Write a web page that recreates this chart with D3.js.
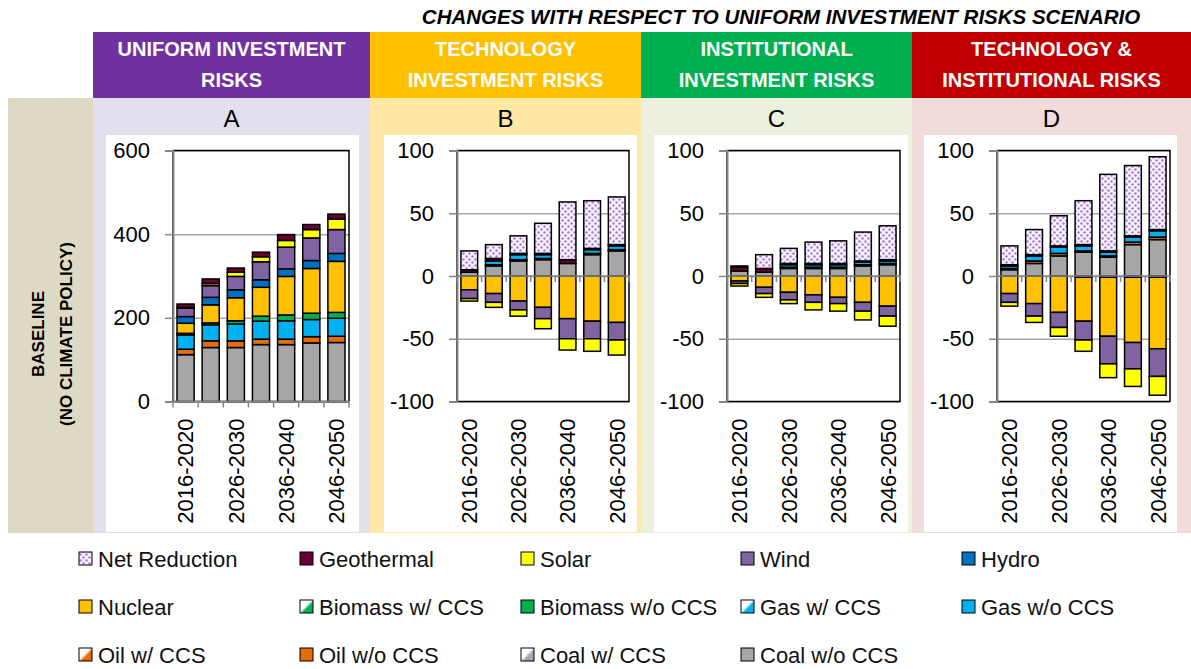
<!DOCTYPE html>
<html>
<head>
<meta charset="utf-8">
<script src="https://cdn.jsdelivr.net/npm/d3@7"></script>
<style>
  body { margin: 0; background: #fff; }
  svg { display: block; }
  text { font-family: "Liberation Sans", Arial, sans-serif; }
</style>
</head>
<body>
<div id="chart"></div>
<script>
// ---- data ----
const periods = ["2016-2020", "2021-2025", "2026-2030", "2031-2035", "2036-2040", "2041-2045", "2046-2050"];
const periodLabels = ["2016-2020", "2026-2030", "2036-2040", "2046-2050"];

// stacking order, bottom to top
const techs = ["Coal w/o CCS", "Coal w/ CCS", "Oil w/o CCS", "Oil w/ CCS", "Gas w/o CCS", "Gas w/ CCS",
    "Biomass w/o CCS", "Biomass w/ CCS", "Nuclear", "Hydro", "Wind", "Solar", "Geothermal", "Net Reduction"];
const techColors = ["#a6a6a6", "#a6a6a6", "#e46c0a", "#e46c0a", "#00b0f0", "#00b0f0",
    "#00b050", "#00b050", "#ffc000", "#0070c0", "#8064a2", "#ffff00", "#660033", "#9966cc"];

// one row per period, columns in the order of `techs`
const panelA = [
    [112, 0, 13, 0, 34, 0, 4, 0, 24, 16, 20, 2, 8, 0],
    [129, 0, 16, 0, 38, 0, 5, 0, 43, 18, 28, 5, 11, 0],
    [129, 0, 16, 0, 40, 0, 8, 0, 55, 19, 32, 10, 10, 0],
    [136, 0, 13, 0, 43, 0, 12, 0, 69, 18, 43, 12, 11, 0],
    [136, 0, 13, 0, 44, 0, 14, 0, 92, 18, 52, 16, 14, 0],
    [140, 0, 15, 0, 41, 0, 15, 0, 107, 19, 54, 20, 12, 0],
    [141, 0, 15, 0, 43, 0, 14, 0, 122, 19, 57, 25, 12, 0]
];
const panelB = [
    [3, 0, 0, 0, 0, 0, 0, 0, -11, 0, -7, -2, 2, 15],
    [8, 0, 1, 0, 3, 0, 0, 0, -14, 0, -7, -4, 2, 11],
    [12, 0, 1, 0, 4, 0, 0, 0, -20, 0, -7, -5, 1, 14],
    [13, 0, 1, 0, 3, 0, 0, 0, -25, 0, -9, -8, 1, 24],
    [10, 0, 0, 0, 0, 0, 0, 0, -34, 0, -16, -9, 3, 46],
    [17, 0, 1, 0, 3, 0, 0, 0, -36, 0, -14, -10, 1, 38],
    [20, 0, 1, 0, 3, 0, 0, 0, -37, 0, -14, -12, 1, 38]
];
const panelC = [
    [4, 0, 0, 0, 0, 0, 0, 0, -4, 0, -2, -2, 3, 1],
    [3, 0, 0, 0, 0, 0, 0, 0, -9, 0, -5, -3, 3, 11],
    [6, 0, 1, 0, 2, 0, 0, 0, -13, 0, -6, -3, 1, 12],
    [6, 0, 1, 0, 2, 0, 0, 0, -15, 0, -6, -6, 1, 17],
    [6, 0, 1, 0, 2, 0, 0, 0, -17, 0, -5, -6, 1, 18],
    [8, 0, 1, 0, 2, 0, 0, 0, -21, 0, -7, -7, 1, 23],
    [9, 0, 1, 0, 2, 0, 0, 0, -24, 0, -8, -8, 1, 27]
];
const panelD = [
    [5, 0, 1, 0, 2, 0, 0, 0, -14, 0, -7, -3, 1, 15],
    [10, 0, 2, 0, 4, 0, 0, 0, -22, 0, -10, -5, 1, 20],
    [16, 0, 2, 0, 5, 0, 0, 0, -29, 0, -12, -7, 1, 24],
    [19, 0, 1, 0, 4, 0, -1, 0, -35, 0, -15, -9, 1, 35],
    [15, 0, 1, 0, 3, 0, -1, 0, -47, 0, -22, -11, 1, 61],
    [25, 0, 2, 0, 4, 0, -1, 0, -52, 0, -21, -14, 1, 56],
    [29, 0, 2, 0, 5, 0, -1, 0, -57, 0, -22, -15, 1, 58]
];

const yTicksLevel = [0, 200, 400, 600];
const yTicksChange = [-100, -50, 0, 50, 100];

const headerTitle = "CHANGES WITH RESPECT TO UNIFORM INVESTMENT RISKS SCENARIO";

// ---- layout ----
const panels = [
    {letter: "A", rows: panelA, head: ["UNIFORM INVESTMENT", "RISKS"], headColor: "#7030a0", bg: "#e4dfec",
        x0: 93, x1: 370, white: [106, 359], plot: [173, 349], domain: [0, 600], ticks: yTicksLevel},
    {letter: "B", rows: panelB, head: ["TECHNOLOGY", "INVESTMENT RISKS"], headColor: "#ffc000", bg: "#ffe8a3",
        x0: 370, x1: 641, white: [384, 637], plot: [457, 629], domain: [-100, 100], ticks: yTicksChange},
    {letter: "C", rows: panelC, head: ["INSTITUTIONAL", "INVESTMENT RISKS"], headColor: "#00b050", bg: "#ebf1de",
        x0: 641, x1: 912, white: [654, 908], plot: [727, 900], domain: [-100, 100], ticks: yTicksChange},
    {letter: "D", rows: panelD, head: ["TECHNOLOGY &", "INSTITUTIONAL RISKS"], headColor: "#c00000", bg: "#f2dcdb",
        x0: 912, x1: 1191, white: [924, 1177], plot: [997, 1170], domain: [-100, 100], ticks: yTicksChange}
];

const plotTop = 150.5, plotBottom = 401.5;

const svg = d3.select("#chart").append("svg")
    .attr("width", 1191)
    .attr("height", 669);

// fills: dotted pattern for net reduction, half white gradients for CCS types
const defs = svg.append("defs");
const dots = defs.append("pattern")
    .attr("id", "dots")
    .attr("patternUnits", "userSpaceOnUse")
    .attr("width", 6).attr("height", 6);
dots.append("rect").attr("width", 6).attr("height", 6).attr("fill", "#f6f1fb");
dots.append("circle").attr("cx", 1.5).attr("cy", 1.5).attr("r", 1.2).attr("fill", "#a47bd6");
dots.append("circle").attr("cx", 4.5).attr("cy", 4.5).attr("r", 1.2).attr("fill", "#a47bd6");

techs.forEach((t, i) => {
    if (!t.includes("w/ CCS")) return;
    const grad = defs.append("linearGradient")
        .attr("id", "grad" + i)
        .attr("x1", 0).attr("y1", 0).attr("x2", 1).attr("y2", 1);
    grad.append("stop").attr("offset", "0%").attr("stop-color", "#fff");
    grad.append("stop").attr("offset", "45%").attr("stop-color", "#fff");
    grad.append("stop").attr("offset", "60%").attr("stop-color", techColors[i]);
    grad.append("stop").attr("offset", "100%").attr("stop-color", techColors[i]);
});

function fillFor(name) {
    const i = techs.indexOf(name);
    if (name === "Net Reduction") return "url(#dots)";
    if (name.includes("w/ CCS")) return "url(#grad" + i + ")";
    return techColors[i];
}

// ---- backgrounds & headings ----
svg.append("text")
    .attr("x", 781).attr("y", 24)
    .attr("text-anchor", "middle")
    .style("font-size", "20.5px").style("font-weight", "bold").style("font-style", "italic")
    .text(headerTitle);

svg.append("rect")
    .attr("x", 8).attr("y", 98).attr("width", 85).attr("height", 435)
    .attr("fill", "#ddd9c4");

const sideLabel = svg.append("text")
    .attr("transform", "translate(52,334) rotate(-90)")
    .attr("text-anchor", "middle")
    .style("font-size", "17px").style("font-weight", "bold");
sideLabel.append("tspan").attr("x", 0).attr("dy", "-0.45em").text("BASELINE");
sideLabel.append("tspan").attr("x", 0).attr("dy", "1.65em").text("(NO CLIMATE POLICY)");

panels.forEach(p => {
    const cx = (p.x0 + p.x1) / 2;

    svg.append("rect")
        .attr("x", p.x0).attr("y", 32).attr("width", p.x1 - p.x0).attr("height", 66)
        .attr("fill", p.headColor);
    p.head.forEach((line, k) => {
        svg.append("text")
            .attr("x", cx).attr("y", 56 + k * 31)
            .attr("text-anchor", "middle")
            .attr("fill", "#fff")
            .style("font-size", "20px").style("font-weight", "bold")
            .text(line);
    });

    svg.append("rect")
        .attr("x", p.x0).attr("y", 98).attr("width", p.x1 - p.x0).attr("height", 435)
        .attr("fill", p.bg);
    svg.append("rect")
        .attr("x", p.white[0]).attr("y", 135).attr("width", p.white[1] - p.white[0]).attr("height", 397)
        .attr("fill", "#fff");

    svg.append("text")
        .attr("x", cx).attr("y", 127)
        .attr("text-anchor", "middle")
        .style("font-size", "24px")
        .text(p.letter);

    drawPanel(p);
});

function drawPanel(p) {
    const x = d3.scaleBand()
        .domain(periods)
        .range(p.plot)
        .paddingInner(0.32)
        .paddingOuter(0.16);

    const y = d3.scaleLinear()
        .domain(p.domain)
        .range([plotBottom, plotTop]);

    const g = svg.append("g");

    // gridlines
    g.append("g")
        .attr("transform", `translate(${p.plot[0]},0)`)
        .call(d3.axisLeft(y).tickValues(p.ticks).tickSize(-(p.plot[1] - p.plot[0])).tickFormat(""))
        .call(a => a.select(".domain").remove())
        .selectAll("line")
        .attr("stroke", "#a6a6a6")
        .attr("stroke-width", 1.5);

    // frame
    g.append("rect")
        .attr("x", p.plot[0]).attr("y", plotTop)
        .attr("width", p.plot[1] - p.plot[0]).attr("height", plotBottom - plotTop)
        .attr("fill", "none")
        .attr("stroke", "#000")
        .attr("stroke-width", 1.5);

    // stacked bars
    const table = p.rows.map((r, i) => {
        const row = {period: periods[i]};
        techs.forEach((t, k) => row[t] = r[k]);
        return row;
    });
    const series = d3.stack().keys(techs).offset(d3.stackOffsetDiverging)(table);

    g.selectAll(".layer")
        .data(series)
        .join("g")
        .attr("class", "layer")
        .attr("fill", d => fillFor(d.key))
        .selectAll("rect")
        .data(d => d.filter(s => s[1] !== s[0]))
        .join("rect")
        .attr("x", d => x(d.data.period))
        .attr("width", x.bandwidth())
        .attr("y", d => y(d[1]))
        .attr("height", d => y(d[0]) - y(d[1]))
        .attr("stroke", "#000")
        .attr("stroke-width", 1.5);

    // zero line with category ticks
    const y0 = y(0);
    g.append("line")
        .attr("x1", p.plot[0]).attr("x2", p.plot[1] + 1)
        .attr("y1", y0).attr("y2", y0)
        .attr("stroke", "#868686")
        .attr("stroke-width", 1.5);
    const edges = periods.map(d => x(d) - x.step() * 0.16).concat([p.plot[1]]);
    g.selectAll(".cat-tick")
        .data(edges)
        .join("line")
        .attr("class", "cat-tick")
        .attr("x1", d => d).attr("x2", d => d)
        .attr("y1", y0).attr("y2", y0 + 6)
        .attr("stroke", "#868686")
        .attr("stroke-width", 1.5);

    // y axis (plain hyphen for negatives, as in the original)
    const yAxis = g.append("g")
        .attr("transform", `translate(${p.plot[0]},0)`)
        .call(d3.axisLeft(y).tickValues(p.ticks).tickSize(8).tickPadding(15).tickFormat(d => String(d)));
    yAxis.select(".domain").attr("stroke", "#868686").attr("stroke-width", 2);
    yAxis.selectAll("line").attr("stroke", "#868686").attr("stroke-width", 1.5);
    yAxis.selectAll("text")
        .attr("fill", "#000")
        .style("font-size", "22px")
        .style("font-family", "'Liberation Sans', Arial, sans-serif");

    // period labels
    const xAxis = g.append("g")
        .attr("transform", `translate(0,${plotBottom})`)
        .call(d3.axisBottom(x).tickValues(periodLabels).tickSize(0));
    xAxis.select(".domain").remove();
    xAxis.selectAll("text")
        .attr("transform", "rotate(-90)")
        .attr("x", -17)
        .attr("y", 0)
        .attr("dy", "0.36em")
        .attr("fill", "#000")
        .style("text-anchor", "end")
        .style("font-size", "22px")
        .style("font-family", "'Liberation Sans', Arial, sans-serif");
}

// ---- legend ----
const legendItems = techs.slice().reverse();
const legendCols = [79, 300, 521, 741, 962];
const legendRows = [559, 607, 655];

const legend = svg.append("g")
    .selectAll("g")
    .data(legendItems)
    .join("g")
    .attr("transform", (d, i) => `translate(${legendCols[i % 5]},${legendRows[Math.floor(i / 5)]})`);

legend.append("rect")
    .attr("x", 0).attr("y", -7)
    .attr("width", 13).attr("height", 13)
    .attr("fill", d => fillFor(d))
    .attr("stroke", "#000")
    .attr("stroke-width", 1);

legend.append("text")
    .attr("x", 19)
    .attr("dy", "0.36em")
    .style("font-size", "22px")
    .attr("fill", "#111")
    .text(d => d);
</script>
</body>
</html>
